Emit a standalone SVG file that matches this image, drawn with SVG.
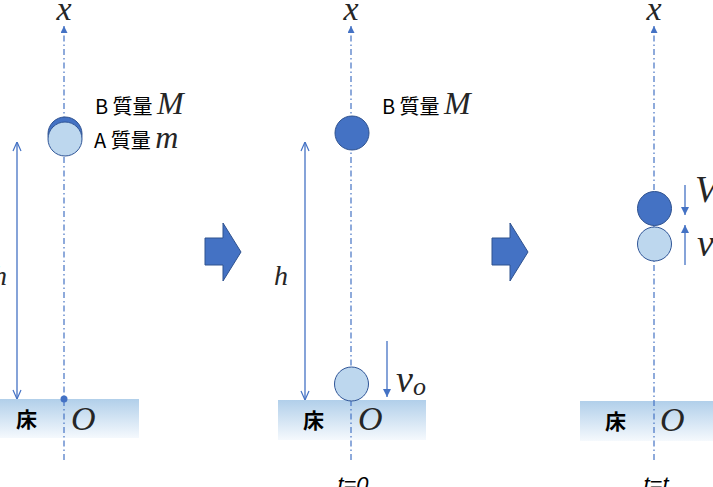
<svg xmlns="http://www.w3.org/2000/svg" width="713" height="487" viewBox="0 0 713 487">
<style>
.axis{stroke:#4472c4;stroke-width:1.2;stroke-dasharray:6 3 1.5 3;fill:none}
.dim{stroke:#4472c4;stroke-width:1.3;fill:none}
.math{font-family:"Liberation Serif","DejaVu Serif",serif;font-style:italic;fill:#262626}
.jp{font-family:"Noto Sans CJK JP","Noto Sans",sans-serif;fill:#000}
.tl{font-family:"Liberation Sans","Noto Sans",sans-serif;font-style:italic;fill:#000;font-size:22px}
.ballB{fill:#4472c4;stroke:#2f528f;stroke-width:1}
.ballA{fill:#bdd7ee;stroke:#2f5597;stroke-width:1}
.floor{fill:url(#fg)}
.blk{fill:#4472c4;stroke:#2f528f;stroke-width:1}
</style>
<defs>
<linearGradient id="fg" x1="0" y1="0" x2="0" y2="1">
<stop offset="0" stop-color="#b1cfea"/>
<stop offset="1" stop-color="#f5f9fd"/>
</linearGradient>
<marker id="ah" viewBox="0 0 10 10" refX="10" refY="5" markerWidth="7" markerHeight="7" markerUnits="userSpaceOnUse" orient="auto"><path d="M0,0 L10,5 L0,10 z" fill="#4472c4"/></marker>
<marker id="fh" viewBox="0 0 10 10" refX="10" refY="5" markerWidth="8" markerHeight="8" markerUnits="userSpaceOnUse" orient="auto"><path d="M0,0 L10,5 L0,10 z" fill="#4472c4"/></marker>
<marker id="oh" viewBox="0 0 10 10" refX="10" refY="5" markerWidth="10" markerHeight="10" markerUnits="userSpaceOnUse" orient="auto"><path d="M1,1 L10,5 L1,9" fill="none" stroke="#4472c4" stroke-width="1.2"/></marker>
</defs>

<g id="floor1"><rect class="floor" x="0" y="399" width="139" height="39"/><text class="jp" x="16" y="427" font-size="21" font-weight="bold">床</text><text class="math" x="71" y="430" font-size="34">O</text></g>
<g id="floor2"><rect class="floor" x="278" y="400" width="148" height="40"/><text class="jp" x="303" y="428" font-size="21" font-weight="bold">床</text><text class="math" x="358" y="430" font-size="34">O</text></g>
<g id="floor3"><rect class="floor" x="580" y="401" width="133" height="40"/><text class="jp" x="605" y="429" font-size="21" font-weight="bold">床</text><text class="math" x="660" y="431" font-size="34">O</text></g>

<g id="connectors">
<line class="axis" x1="64" y1="460" x2="64" y2="26" marker-end="url(#ah)"/>
<line class="axis" x1="351" y1="460" x2="351" y2="26" marker-end="url(#ah)"/>
<line class="axis" x1="654" y1="460" x2="654" y2="26" marker-end="url(#ah)"/>
<line class="dim" x1="17" y1="270" x2="17" y2="142" marker-end="url(#oh)"/>
<line class="dim" x1="17" y1="270" x2="17" y2="399" marker-end="url(#oh)"/>
<line class="dim" x1="305" y1="270" x2="305" y2="142" marker-end="url(#oh)"/>
<line class="dim" x1="305" y1="270" x2="305" y2="400" marker-end="url(#oh)"/>
<line class="dim" x1="387" y1="341" x2="387" y2="397" marker-end="url(#fh)"/>
<line class="dim" x1="685" y1="185" x2="685" y2="215" marker-end="url(#fh)"/>
<line class="dim" x1="685" y1="265" x2="685" y2="225" marker-end="url(#fh)"/>
</g>

<g id="axis-labels">
<text class="math" x="64" y="20" font-size="34" text-anchor="middle">x</text>
<text class="math" x="351" y="20" font-size="34" text-anchor="middle">x</text>
<text class="math" x="654" y="20" font-size="34" text-anchor="middle">x</text>
</g>

<g id="origin-dot"><circle cx="64" cy="399" r="3.5" fill="#4472c4"/></g>

<g id="ballB1"><circle class="ballB" cx="65" cy="134" r="17"/></g>
<g id="ballA1"><circle class="ballA" cx="65" cy="139" r="17"/></g>
<g id="label1">
<text class="jp" x="95" y="114" font-size="20">B 質量 <tspan class="math" font-size="32">M</tspan></text>
<text class="jp" x="94" y="148" font-size="20">A 質量 <tspan class="math" font-size="32">m</tspan></text>
<text class="math" x="-7" y="285" font-size="28">h</text>
</g>

<g id="step-arrow1"><path class="blk" d="M205,238 L223,238 L223,223 L241,252 L223,281 L223,265 L205,265 z"/></g>
<g id="step-arrow2"><path class="blk" d="M492,238 L510,238 L510,223 L528,252 L510,281 L510,265 L492,265 z"/></g>

<g id="ballB2"><circle class="ballB" cx="352" cy="133" r="17"/></g>
<g id="label2"><text class="jp" x="382" y="114" font-size="20">B 質量 <tspan class="math" font-size="32">M</tspan></text></g>
<g id="h2"><text class="math" x="274" y="285" font-size="28">h</text></g>
<g id="ballA2"><circle class="ballA" cx="351.5" cy="384" r="17"/></g>
<g id="vo"><text class="math" x="396" y="392" font-size="38">v<tspan font-size="26" dy="3">o</tspan></text></g>
<g id="t0"><text class="tl" x="353" y="492" text-anchor="middle">t=0</text></g>

<g id="ballB3"><circle class="ballB" cx="654.5" cy="208.5" r="17"/></g>
<g id="ballA3"><circle class="ballA" cx="654.5" cy="244" r="17"/></g>
<g id="V"><text class="math" x="695" y="202" font-size="37">V</text></g>
<g id="v"><text class="math" x="697" y="256" font-size="38">v</text></g>
<g id="tt"><text class="tl" x="656" y="492" text-anchor="middle">t=t</text></g>
</svg>
